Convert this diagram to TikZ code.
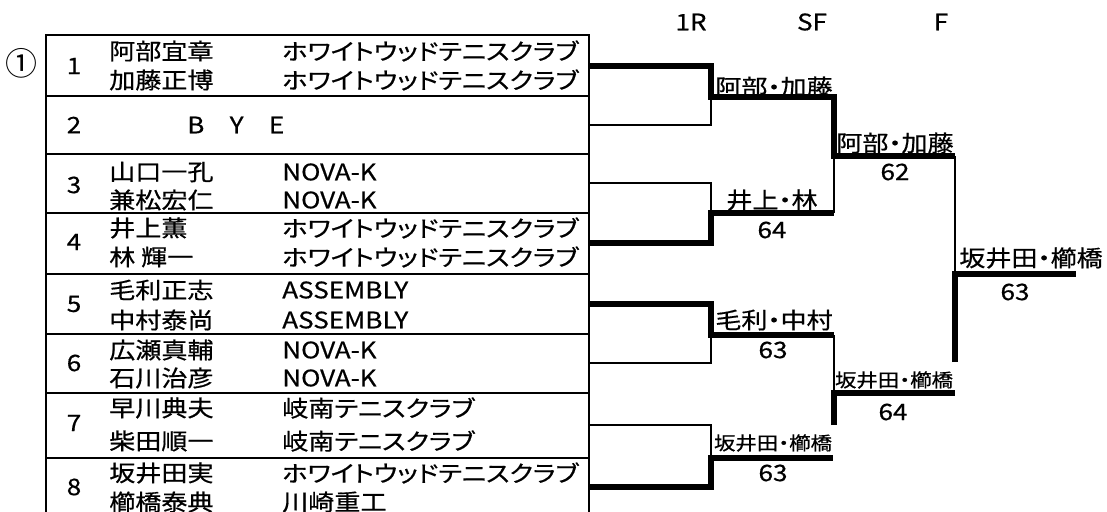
\documentclass[tikz,border=0pt]{standalone}
\usepackage{fontspec}
\setmainfont{Noto Sans CJK JP}[FakeStretch=1.15,FakeBold=0.6,RawFeature=+palt]
\newfontfamily\circfont{Noto Sans CJK JP}
\begin{document}
\begin{tikzpicture}[x=0.75pt,y=-0.75pt,
  font=\fontsize{17pt}{20pt}\selectfont,
  gridline/.style={line width=1pt},
  loseline/.style={line width=1.9pt},
  winline/.style={line width=4.1pt},
  cell/.style={inner sep=0pt,anchor=west},
  num/.style={inner sep=0pt,anchor=center},
  lbl/.style={inner sep=0pt,anchor=center},
  smalllbl/.style={inner sep=0pt,anchor=center,font=\fontsize{14pt}{16pt}\selectfont},
  hdr/.style={inner sep=0pt,anchor=center}]
\useasboundingbox (0,0) rectangle (1107,511);

% ---- headers
\node[hdr] (h1) at (691,22) {1R};
\node[hdr] (h2) at (812,22) {SF};
\node[hdr] (h3) at (941,22) {F};

% ---- seed mark
\node[inner sep=0pt,font=\circfont\fontsize{24pt}{26pt}\selectfont] (seed) at (22,63) {①};

% ---- table frame
\draw[gridline] (46,35) rectangle (589,518);
\foreach \yy in {96,154,213,274,334,393,458}
  \draw[gridline] (46,\yy) -- (589,\yy);

% ---- row numbers
\node[num] (n1) at (74,66) {1};
\node[num] (n2) at (74,125) {2};
\node[num] (n3) at (74,185) {3};
\node[num] (n4) at (74,242) {4};
\node[num] (n5) at (74,304) {5};
\node[num] (n6) at (74,363) {6};
\node[num] (n7) at (74,423) {7};
\node[num] (n8) at (74,487) {8};

% ---- players and clubs
\node[cell] (p1a) at (109,51) {阿部宜章};
\node[cell] (c1a) at (282,51) {ホワイトウッドテニスクラブ};
\node[cell] (p1b) at (109,80) {加藤正博};
\node[cell] (c1b) at (282,80) {ホワイトウッドテニスクラブ};
\node[cell] (bye) at (187,125) {{\spaceskip=19pt B Y E}};
\node[cell] (p3a) at (109,172) {山口一孔};
\node[cell] (c3a) at (282,172) {NOVA-K};
\node[cell] (p3b) at (109,200) {兼松宏仁};
\node[cell] (c3b) at (282,200) {NOVA-K};
\node[cell] (p4a) at (109,228) {井上薫};
\node[cell] (c4a) at (282,228) {ホワイトウッドテニスクラブ};
\node[cell] (p4b) at (109,257) {林 輝一};
\node[cell] (c4b) at (282,257) {ホワイトウッドテニスクラブ};
\node[cell] (p5a) at (109,290) {毛利正志};
\node[cell] (c5a) at (282,290) {ASSEMBLY};
\node[cell] (p5b) at (109,320) {中村泰尚};
\node[cell] (c5b) at (282,320) {ASSEMBLY};
\node[cell] (p6a) at (109,350) {広瀬真輔};
\node[cell] (c6a) at (282,350) {NOVA-K};
\node[cell] (p6b) at (109,378) {石川治彦};
\node[cell] (c6b) at (282,378) {NOVA-K};
\node[cell] (p7a) at (109,408) {早川典夫};
\node[cell] (c7a) at (282,408) {岐南テニスクラブ};
\node[cell] (p7b) at (109,441) {柴田順一};
\node[cell] (c7b) at (282,441) {岐南テニスクラブ};
\node[cell] (p8a) at (109,473) {坂井田実};
\node[cell] (c8a) at (282,473) {ホワイトウッドテニスクラブ};
\node[cell] (p8b) at (109,502) {櫛橋泰典};
\node[cell] (c8b) at (282,502) {川崎重工};

% ---- bracket coordinates
\coordinate (e1) at (589,66);
\coordinate (e2) at (589,125);
\coordinate (e3) at (589,183);
\coordinate (e4) at (589,243);
\coordinate (e5) at (589,304);
\coordinate (e6) at (589,363);
\coordinate (e7) at (589,425);
\coordinate (e8) at (589,487);
\coordinate (a1) at (711,66);
\coordinate (a2) at (711,125);
\coordinate (a3) at (711,183);
\coordinate (a4) at (711,243);
\coordinate (a5) at (711,304);
\coordinate (a6) at (711,363);
\coordinate (a7) at (711,425);
\coordinate (a8) at (711,487);
\coordinate (r1) at (711,97);
\coordinate (r2) at (711,213);
\coordinate (r3) at (711,335);
\coordinate (r4) at (711,458);
\coordinate (s1) at (834,97);
\coordinate (s2) at (834,213);
\coordinate (s3) at (834,335);
\coordinate (s4) at (833,458);
\coordinate (t1) at (834,156);
\coordinate (t2) at (834,393);
\coordinate (t2x) at (834,425);
\coordinate (u1) at (955,156);
\coordinate (u2) at (955,393);
\coordinate (f1) at (955,274);
\coordinate (f1x) at (955,362);
\coordinate (fw) at (1076,274);

% ---- losing (thin) lines
\draw[loseline] (r1) -- (a2) -- (e2);
\draw[loseline] (e3) -- (a3) -- (r2);
\draw[loseline] (r3) -- (a6) -- (e6);
\draw[loseline] (e7) -- (a7) -- (r4);
\draw[loseline] (t1) -- (s2);
\draw[loseline] (s3) -- (t2);
\draw[loseline] (u1) -- (f1);

% ---- winning (thick) lines
\draw[winline] (e1) -- (a1) -- (r1) -- (s1) -- (t1) -- (u1);
\draw[winline] (e4) -- (a4) -- (r2) -- (s2);
\draw[winline] (e5) -- (a5) -- (r3) -- (s3);
\draw[winline] (e8) -- (a8) -- (r4) -- (s4);
\draw[winline] (t2x) -- (t2) -- (u2);
\draw[winline] (f1x) -- (f1) -- (fw);

% ---- results
\node[lbl] (w1) at (774,87) {阿部・加藤};
\node[lbl] (w2) at (772,200) {井上・林};
\node[lbl] (w2s) at (772,230) {64};
\node[lbl] (w3) at (774,320) {毛利・中村};
\node[lbl] (w3s) at (773,350) {63};
\node[smalllbl] (w4) at (773,443) {坂井田・櫛橋};
\node[lbl] (w4s) at (773,473) {63};
\node[lbl] (sf1) at (895,143) {阿部・加藤};
\node[lbl] (sf1s) at (895,172) {62};
\node[smalllbl] (sf2) at (894,380) {坂井田・櫛橋};
\node[lbl] (sf2s) at (893,412) {64};
\node[lbl] (fin) at (1031,258) {坂井田・櫛橋};
\node[lbl] (fins) at (1015,292) {63};
\end{tikzpicture}
\end{document}
